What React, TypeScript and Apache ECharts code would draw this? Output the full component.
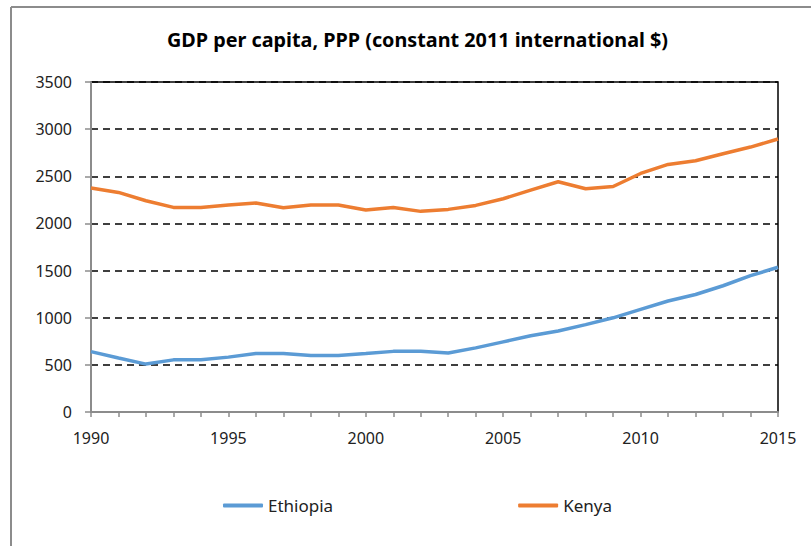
import React, { useEffect, useRef } from "react";
import * as echarts from "echarts";

const years = [
  "1990", "1991", "1992", "1993", "1994", "1995", "1996", "1997", "1998", "1999",
  "2000", "2001", "2002", "2003", "2004", "2005", "2006", "2007", "2008", "2009",
  "2010", "2011", "2012", "2013", "2014", "2015",
];
const ethiopia = [
  640, 572, 508, 553, 553, 582, 621, 621, 600, 600,
  621, 643, 645, 626, 680, 744, 808, 859, 927, 999,
  1088, 1177, 1246, 1339, 1446, 1535,
];
const kenya = [
  2375, 2329, 2241, 2170, 2170, 2195, 2216, 2166, 2195, 2195,
  2142, 2170, 2128, 2149, 2191, 2262, 2354, 2442, 2368, 2392,
  2530, 2626, 2665, 2739, 2810, 2895,
];
const title = "GDP per capita, PPP (constant 2011 international $)";

const FONT = "'Noto Sans', 'Open Sans', sans-serif";

export default function App() {
  const ref = useRef<HTMLDivElement>(null);
  useEffect(() => {
    if (!ref.current) return;
    const chart = echarts.init(ref.current, null, { renderer: "svg" });
    chart.setOption({
      animation: false,
      backgroundColor: "#ffffff",
      textStyle: { fontFamily: FONT },
      title: {
        text: title,
        left: 162,
        top: 24,
        textStyle: { fontFamily: FONT, fontWeight: "bold", fontSize: 19.8, color: "#000" },
      },
      graphic: [
        { type: "line", shape: { x1: 11, y1: 7, x2: 11, y2: 546 }, style: { stroke: "#8c8c8c", lineWidth: 2 } },
        { type: "line", shape: { x1: 11, y1: 7, x2: 811, y2: 7 }, style: { stroke: "#8c8c8c", lineWidth: 2 } },
      ],
      legend: {
        left: 223,
        top: 497,
        padding: 0,
        itemGap: 185,
        itemWidth: 40,
        itemHeight: 4,
        icon: "roundRect",
        textStyle: { fontFamily: FONT, fontSize: 17, color: "#222" },
        data: ["Ethiopia", "Kenya"],
      },
      grid: {
        left: 91,
        right: 33,
        top: 82,
        bottom: 134,
        show: true,
        borderColor: "#000",
        borderWidth: 1.5,
        containLabel: false,
      },
      xAxis: {
        type: "category",
        data: years,
        boundaryGap: false,
        axisLine: { lineStyle: { color: "#8c8c8c", width: 2 } },
        axisTick: { show: true, interval: 0, length: 5, lineStyle: { color: "#8c8c8c", width: 1.5 } },
        axisLabel: { interval: 4, margin: 18, fontSize: 16, color: "#222", fontFamily: FONT },
        splitLine: { show: false },
      },
      yAxis: {
        type: "value",
        min: 0,
        max: 3500,
        interval: 500,
        axisLine: { show: true, lineStyle: { color: "#8c8c8c", width: 2 } },
        axisTick: { show: true, length: 6, lineStyle: { color: "#8c8c8c", width: 1.5 } },
        axisLabel: {
          margin: 19,
          fontSize: 16,
          color: "#222",
          fontFamily: FONT,
          formatter: (v: number) => String(v),
        },
        splitLine: { show: true, lineStyle: { color: "#000", width: 1.5, type: [7, 5] } },
      },
      series: [
        {
          name: "Ethiopia",
          type: "line",
          data: ethiopia,
          showSymbol: false,
          symbol: "none",
          lineStyle: { color: "#5B9BD5", width: 3.5 },
          itemStyle: { color: "#5B9BD5" },
        },
        {
          name: "Kenya",
          type: "line",
          data: kenya,
          showSymbol: false,
          symbol: "none",
          lineStyle: { color: "#ED7D31", width: 3.5 },
          itemStyle: { color: "#ED7D31" },
        },
      ],
    });
    return () => chart.dispose();
  }, []);
  return (
    <div
      ref={ref}
      style={{ position: "fixed", left: 0, top: 0, width: 811, height: 546, background: "#fff" }}
    />
  );
}
